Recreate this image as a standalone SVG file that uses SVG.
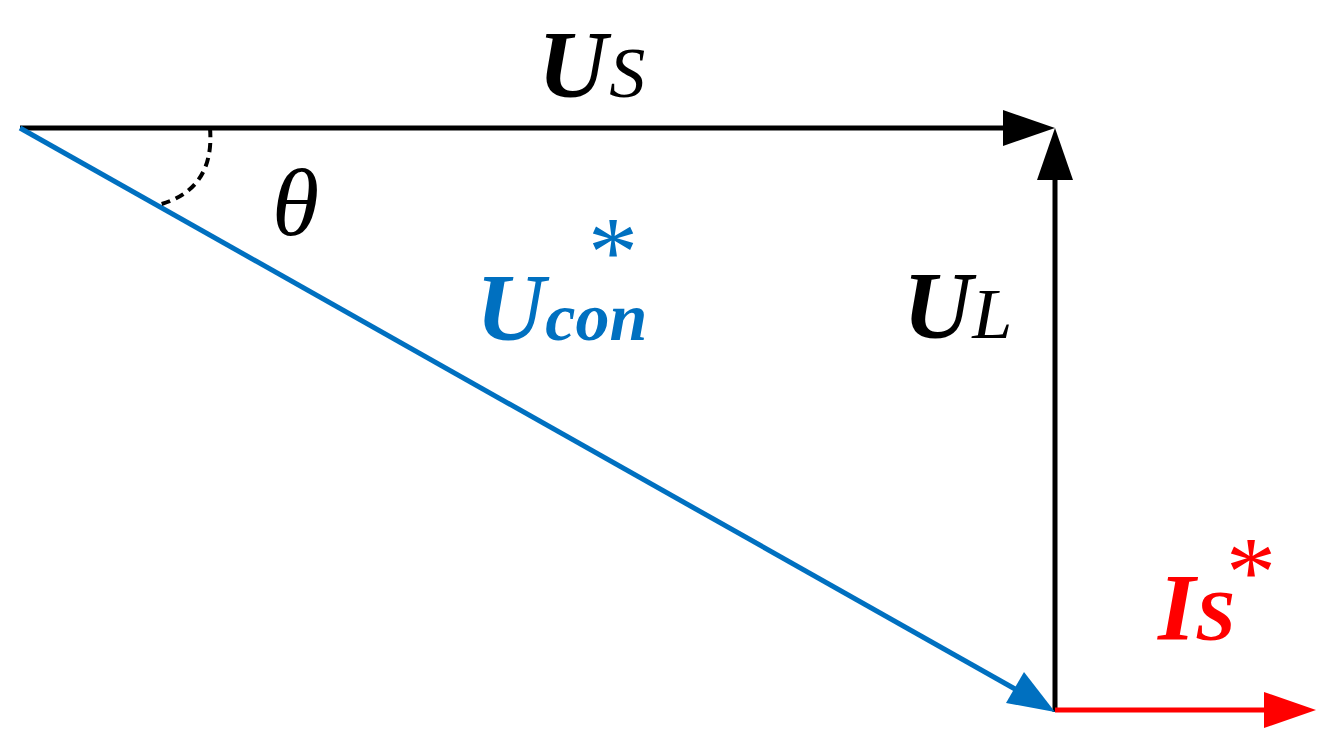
<svg xmlns="http://www.w3.org/2000/svg" width="1329" height="750" viewBox="0 0 1329 750">
<style>
.t{font-family:"Liberation Serif",serif;font-style:italic}
.b{font-weight:bold}
</style>
<rect width="1329" height="750" fill="#fff"/>
<g id="connectors">
<line x1="20" y1="128" x2="1005" y2="128" stroke="#000" stroke-width="5"/>
<polygon points="1055,128 1003,110 1003,146" fill="#000"/>
<line x1="1055" y1="712" x2="1055" y2="176" stroke="#000" stroke-width="5"/>
<polygon points="1055,128 1037,180 1073,180" fill="#000"/>
<line x1="20" y1="128" x2="1015" y2="689" stroke="#0070C0" stroke-width="5"/>
<polygon points="1055,712 1006,703 1024,672" fill="#0070C0"/>
<line x1="1055" y1="710" x2="1268" y2="710" stroke="#FF0000" stroke-width="5"/>
<polygon points="1316,710 1264,692 1264,728" fill="#FF0000"/>
<path d="M210,128 Q215,190 158,205" fill="none" stroke="#000" stroke-width="4" stroke-dasharray="9,6"/>
</g>
<g id="labels">
<text x="538" y="97" class="t b" font-size="96">U<tspan font-size="72" font-weight="normal" dx="2">S</tspan></text>
<text x="272" y="235" class="t" font-size="96">θ</text>
<text x="476" y="340" class="t b" font-size="96" fill="#0070C0">U<tspan font-size="68">con</tspan></text>
<text x="588" y="285" font-family="Liberation Serif,serif" font-size="100" fill="#0070C0">*</text>
<text x="903" y="338" class="t b" font-size="96">U<tspan font-size="72" font-weight="normal">L</tspan></text>
<text x="1158" y="640" class="t b" font-size="96" fill="#FF0000">I<tspan font-size="72">S</tspan></text>
<text x="1226" y="605" font-family="Liberation Serif,serif" font-size="100" fill="#FF0000">*</text>
</g>
</svg>
